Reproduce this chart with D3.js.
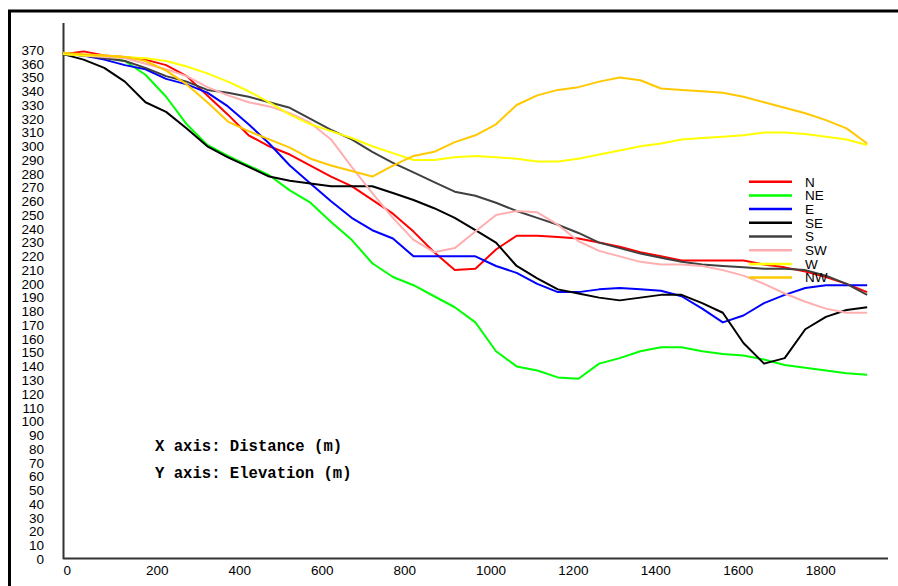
<!DOCTYPE html>
<html>
<head>
<meta charset="utf-8">
<script src="https://cdn.jsdelivr.net/npm/d3@7"></script>
<style>
  body { margin: 0; background: #fff; }
  svg { display: block; }
</style>
</head>
<body>
<div id="chart-area"></div>
<script>
// distance along the profile (m)
var distance = [0, 50, 100, 150, 200, 250, 300, 350, 400, 450, 500, 550, 600, 650, 700, 750, 800, 850, 900, 950,
                1000, 1050, 1100, 1150, 1200, 1250, 1300, 1350, 1400, 1450, 1500, 1550, 1600, 1650, 1700, 1750, 1800, 1850, 1900, 1950];

// elevation (m) per direction
var elevN  = [367, 369, 366, 365, 363, 359, 351, 337, 323, 308, 300, 294, 286, 278, 271, 261, 251, 238, 223, 210,
              211, 225, 235, 235, 234, 233, 230, 227, 223, 220, 217, 217, 217, 217, 214, 212, 209, 205, 200, 194];
var elevNE = [367, 366, 365, 362, 352, 336, 316, 301, 293, 286, 279, 268, 259, 245, 232, 215, 205, 199, 191, 183,
              172, 151, 140, 137, 132, 131, 142, 146, 151, 154, 154, 151, 149, 148, 145, 141, 139, 137, 135, 134];
var elevE  = [367, 366, 363, 359, 356, 349, 345, 339, 329, 316, 302, 286, 273, 260, 248, 239, 233, 220, 220, 220,
              220, 213, 208, 200, 194, 194, 196, 197, 196, 195, 191, 182, 172, 177, 186, 192, 197, 199, 199, 199];
var elevSE = [367, 363, 357, 347, 332, 325, 313, 300, 292, 285, 278, 275, 273, 271, 271, 271, 266, 261, 255, 248,
              239, 230, 213, 204, 196, 193, 190, 188, 190, 192, 192, 186, 179, 157, 142, 146, 167, 176, 181, 183];
var elevS  = [367, 366, 364, 362, 357, 351, 347, 341, 339, 336, 332, 328, 320, 312, 305, 296, 288, 281, 274, 267,
              264, 259, 253, 248, 243, 237, 230, 226, 222, 219, 216, 214, 213, 212, 211, 211, 210, 206, 200, 192];
var elevSW = [367, 366, 365, 364, 360, 356, 351, 343, 337, 332, 329, 324, 317, 305, 285, 266, 248, 232, 223, 226,
              238, 250, 253, 252, 243, 231, 224, 220, 216, 214, 214, 213, 210, 206, 200, 193, 187, 182, 179, 179];
var elevW  = [367, 366, 366, 365, 364, 362, 358, 353, 347, 340, 332, 323, 316, 311, 306, 300, 295, 290, 290, 292,
              293, 292, 291, 289, 289, 291, 294, 297, 300, 302, 305, 306, 307, 308, 310, 310, 309, 307, 305, 301];
var elevNW = [368, 367, 366, 365, 362, 355, 345, 332, 318, 311, 305, 299, 291, 286, 282, 278, 286, 293, 296, 303,
              308, 316, 330, 337, 341, 343, 347, 350, 348, 342, 341, 340, 339, 336, 332, 328, 324, 319, 313, 302];

var directions = ["N", "NE", "E", "SE", "S", "SW", "W", "NW"];
var colors = ["#ff0000", "#00ff00", "#0000ff", "#000000", "#404040", "#ffafaf", "#ffff00", "#ffc800"];

var xTicks = [0, 200, 400, 600, 800, 1000, 1200, 1400, 1600, 1800];
var yTicks = [0, 10, 20, 30, 40, 50, 60, 70, 80, 90, 100, 110, 120, 130, 140, 150, 160, 170, 180, 190,
              200, 210, 220, 230, 240, 250, 260, 270, 280, 290, 300, 310, 320, 330, 340, 350, 360, 370];

var series = [elevN, elevNE, elevE, elevSE, elevS, elevSW, elevW, elevNW].map(function (vals, i) {
    return { name: directions[i], color: colors[i], values: vals };
});

var svg = d3.select("#chart-area").append("svg")
    .attr("width", 898)
    .attr("height", 586);

// marco exterior
svg.append("rect")
    .attr("x", 9.5)
    .attr("y", 11)
    .attr("width", 920)
    .attr("height", 620)
    .attr("fill", "none")
    .attr("stroke", "#000")
    .attr("stroke-width", 3);

var x = d3.scaleLinear().domain([0, 1800]).range([63, 805.3]);
var y = d3.scaleLinear().domain([0, 370]).range([559, 50]);

var font = "'Liberation Sans', Arial, sans-serif";

// eje Y
var yAxis = svg.append("g")
    .attr("transform", "translate(63,0)")
    .call(d3.axisLeft(y).tickValues(yTicks).tickSize(0).tickPadding(19).tickFormat(d3.format("d")));
yAxis.select(".domain").remove();
yAxis.selectAll("text")
    .attr("font-family", font)
    .attr("font-size", "13.5px")
    .attr("fill", "#000");

svg.append("line")
    .attr("x1", 63.5).attr("x2", 63.5)
    .attr("y1", 23).attr("y2", 559)
    .attr("stroke", "#333")
    .attr("stroke-width", 2);

// eje X
var xAxis = svg.append("g")
    .attr("transform", "translate(0,559)")
    .call(d3.axisBottom(x).tickValues(xTicks).tickSize(0).tickPadding(0).tickFormat(d3.format("d")));
xAxis.select(".domain").remove();
xAxis.selectAll("text")
    .attr("text-anchor", "start")
    .attr("y", 0)
    .attr("dy", "15.5px")
    .attr("font-family", font)
    .attr("font-size", "13.5px")
    .attr("fill", "#000");

svg.append("line")
    .attr("x1", 63).attr("x2", 888)
    .attr("y1", 558.5).attr("y2", 558.5)
    .attr("stroke", "#333")
    .attr("stroke-width", 2);

// líneas de perfil
var line = d3.line()
    .x(function (d, i) { return x(distance[i]); })
    .y(function (d) { return y(d); });

svg.selectAll("path.profile")
    .data(series)
    .enter()
    .append("path")
    .attr("class", "profile")
    .attr("d", function (d) { return line(d.values); })
    .attr("fill", "none")
    .attr("stroke", function (d) { return d.color; })
    .attr("stroke-width", 2)
    .attr("stroke-linejoin", "round");

// leyenda
var legend = svg.append("g").attr("transform", "translate(749,181.7)");
var items = legend.selectAll("g")
    .data(series)
    .enter()
    .append("g")
    .attr("transform", function (d, i) { return "translate(0," + (i * 13.7) + ")"; });
items.append("line")
    .attr("x1", 0).attr("x2", 43)
    .attr("y1", 0).attr("y2", 0)
    .attr("stroke", function (d) { return d.color; })
    .attr("stroke-width", 2.5);
items.append("text")
    .attr("x", 56)
    .attr("y", 0)
    .attr("dy", "0.36em")
    .attr("font-family", font)
    .attr("font-size", "13.5px")
    .attr("fill", "#000")
    .text(function (d) { return d.name; });

// títulos de ejes
var mono = "'Liberation Mono', 'Courier New', monospace";
svg.append("text")
    .attr("x", 155)
    .attr("y", 451)
    .attr("font-family", mono)
    .attr("font-weight", "bold")
    .attr("font-size", "15.6px")
    .attr("fill", "#000")
    .text("X axis: Distance (m)");
svg.append("text")
    .attr("x", 155)
    .attr("y", 477.5)
    .attr("font-family", mono)
    .attr("font-weight", "bold")
    .attr("font-size", "15.6px")
    .attr("fill", "#000")
    .text("Y axis: Elevation (m)");
</script>
</body>
</html>
